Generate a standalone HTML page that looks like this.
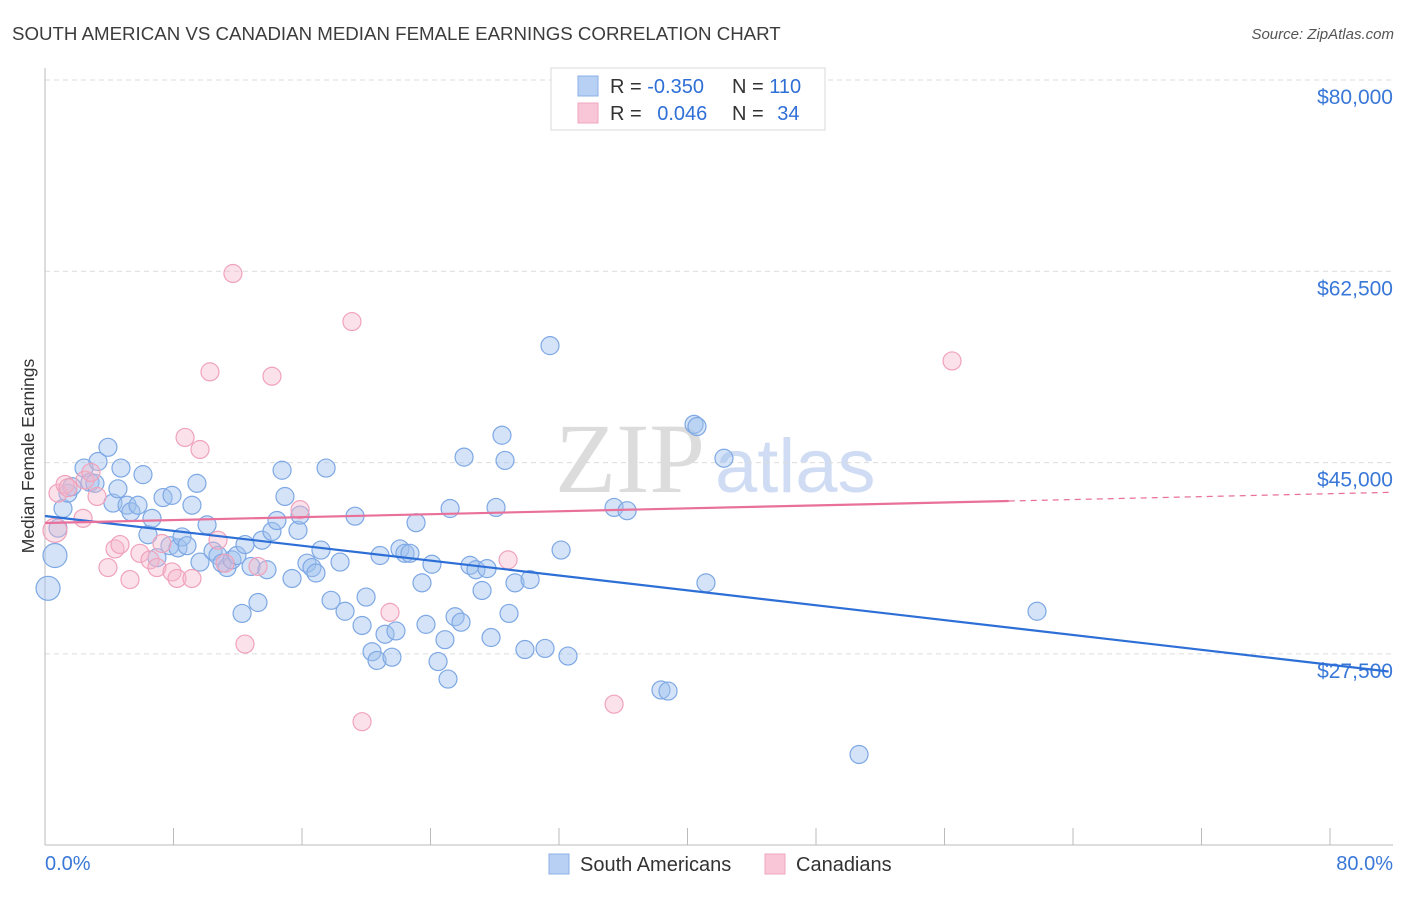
<!DOCTYPE html>
<html><head><meta charset="utf-8">
<style>
body{margin:0;background:#fff;font-family:"Liberation Sans",sans-serif;}
svg text{font-family:"Liberation Sans",sans-serif;}
</style></head>
<body>
<svg id="chart" width="1406" height="892" xmlns="http://www.w3.org/2000/svg">
<text x="12" y="40" font-size="18.7" fill="#3c3c3c">SOUTH AMERICAN VS CANADIAN MEDIAN FEMALE EARNINGS CORRELATION CHART</text>
<text x="1394" y="39" font-size="15" fill="#555" font-style="italic" text-anchor="end">Source: ZipAtlas.com</text>
<text x="555" y="492" font-size="100" fill="#dcdcdc" font-family="Liberation Serif" style="font-family:'Liberation Serif',serif">ZIP</text>
<text x="715" y="492" font-size="76" fill="#cfdcf3">atlas</text>
<text transform="translate(34,456) rotate(-90)" font-size="17.5" fill="#333" text-anchor="middle">Median Female Earnings</text>
<g id="grid"></g>
<g id="axes"></g>
<g id="pts"></g>
<g id="trends"></g>
<g>
<rect x="551" y="68" width="274" height="62" fill="#fff" stroke="#d8d8d8"/>
<rect x="578" y="76" width="20" height="20" fill="#b7d0f3" stroke="#8bb0e8"/>
<rect x="578" y="103" width="20" height="20" fill="#f8c6d6" stroke="#f0a6bf"/>
<text x="610" y="93" font-size="20" fill="#333">R = <tspan fill="#2f6fd6">-0.350</tspan></text>
<text x="732" y="93" font-size="20" fill="#333">N = <tspan fill="#2f6fd6">110</tspan></text>
<text x="610" y="120" font-size="20" fill="#333">R = <tspan fill="#2f6fd6" dx="10">0.046</tspan></text>
<text x="732" y="120" font-size="20" fill="#333">N = <tspan fill="#2f6fd6" dx="8">34</tspan></text>
</g>
<g>
<rect x="549" y="854" width="20" height="20" fill="#b7d0f3" stroke="#8bb0e8"/>
<text x="580" y="871" font-size="20" fill="#333">South Americans</text>
<rect x="765" y="854" width="20" height="20" fill="#f8c6d6" stroke="#f0a6bf"/>
<text x="796" y="871" font-size="20" fill="#333">Canadians</text>
</g>
<text x="45" y="870" font-size="20" fill="#3a78d8">0.0%</text>
<text x="1393" y="870" font-size="20" fill="#3a78d8" text-anchor="end">80.0%</text>
</svg>
<script>
const yTicks=[80000,62500,45000,27500];
const yTickLabels=["$80,000","$62,500","$45,000","$27,500"];
const xTicks=[0,8,16,24,32,40,48,56,64,72,80];
const saX=[0.19,0.62,0.81,1.12,1.43,1.68,2.43,2.80,3.11,3.30,3.92,4.23,4.54,4.73,5.11,5.35,5.79,6.10,6.41,6.66,6.97,7.35,7.78,7.91,8.28,8.53,8.84,9.15,9.46,9.65,10.09,10.46,10.77,11.02,11.33,11.64,11.95,12.27,12.45,12.83,13.26,13.51,13.82,14.13,14.44,14.76,14.94,15.38,15.75,15.88,16.31,16.62,16.87,17.18,17.50,17.81,18.37,18.68,19.30,19.74,19.99,20.36,20.67,20.86,21.17,21.60,21.85,22.10,22.41,22.72,23.10,23.47,23.72,24.09,24.47,24.90,25.09,25.22,25.53,25.90,26.09,26.46,26.83,27.21,27.52,27.77,28.08,28.45,28.64,28.89,29.26,29.88,30.20,31.13,31.44,32.13,32.56,35.43,36.24,38.35,38.79,40.41,40.59,41.15,42.27,50.68,61.76];
const saY=[33.5,36.5,39.0,40.8,42.2,42.8,44.5,43.2,43.1,45.1,46.4,41.3,42.6,44.5,41.1,40.5,41.1,43.9,38.4,39.9,36.3,41.8,37.4,42.0,37.2,38.2,37.4,41.1,43.1,35.9,39.3,36.9,36.5,35.8,35.4,36.1,36.5,31.2,37.5,35.5,32.2,37.9,35.2,38.7,39.7,44.3,41.9,34.4,38.8,40.2,35.8,35.4,34.9,37.0,44.5,32.4,35.9,31.4,40.1,30.1,32.7,27.7,26.9,36.5,29.3,27.2,29.6,37.1,36.7,36.7,39.5,34.0,30.2,35.7,26.8,28.8,25.2,40.8,30.9,30.4,45.5,35.6,35.2,33.3,35.3,29.0,40.9,47.5,45.2,31.2,34.0,27.9,34.3,28.0,55.7,37.0,27.3,40.9,40.6,24.2,24.1,48.5,48.3,34.0,45.4,18.3,31.4];
const caX=[0.62,0.81,1.25,1.43,2.49,2.86,3.24,2.37,3.92,4.36,4.67,5.29,5.91,6.54,6.97,7.28,7.91,8.22,8.72,9.15,9.65,10.27,10.77,11.21,11.70,12.45,13.26,14.13,15.88,19.11,19.74,21.48,28.83,35.43,56.47];
const caY=[38.8,42.2,43.0,42.7,43.4,44.1,41.9,39.9,35.4,37.1,37.5,34.3,36.7,36.1,35.4,37.6,35.0,34.4,47.3,34.4,46.2,53.3,37.9,35.8,62.3,28.4,35.5,52.9,40.7,57.9,21.3,31.3,36.1,22.9,54.3];
const saTrend=[40115,26510];
const caTrend=[39475,42155];
const NS="http://www.w3.org/2000/svg";
const X=p=>45+(p/80)*1285;
const Y=v=>80+(80000-v)/17500*191.3;
function mk(tag,attrs,parent){const e=document.createElementNS(NS,tag);for(const k in attrs)e.setAttribute(k,attrs[k]);parent.appendChild(e);return e;}
const grid=document.getElementById('grid'),axes=document.getElementById('axes'),pts=document.getElementById('pts'),tr=document.getElementById('trends');
yTicks.forEach((v,i)=>{
 const l=mk('line',{x1:45,x2:1393,y1:Y(v),y2:Y(v),stroke:'#dcdcdc','stroke-dasharray':'5,4'},grid);
 
 
 const t=mk('text',{x:1393,y:Y(v)+24,'font-size':21,fill:'#3a78d8','text-anchor':'end'},grid);
 t.textContent=yTickLabels[i];
 
 
});
const ya=mk('line',{x1:45,x2:45,y1:68,y2:845,stroke:'#bbb'},axes);


const xa=mk('line',{x1:45,x2:1393,y1:845,y2:845,stroke:'#bbb'},axes);


xTicks.forEach(p=>{
 const t=mk('line',{x1:X(p),x2:X(p),y1:828,y2:845,stroke:'#bbb'},axes);
 
 
});
function dots(xs,ys,fill,stroke,name){
 xs.forEach((x,i)=>{
  const big=(name==='south-american-point'&&i<2)||(name==='canadian-point'&&i===0);
  const c=mk('circle',{cx:X(x),cy:Y(ys[i]*1000),r:big?12:9,fill:fill,stroke:stroke,'stroke-width':1.2},pts);
  
  
 });
}
dots(saX,saY,'rgba(160,192,238,0.45)','#7ea8e4','south-american-point');
dots(caX,caY,'rgba(246,182,202,0.4)','#f0a2bb','canadian-point');
const xEnd=83.65;
const lerp=(a,b,p)=>a+(b-a)*p/80;
const sl=mk('line',{x1:X(0),y1:Y(saTrend[0]),x2:X(xEnd),y2:Y(lerp(saTrend[0],saTrend[1],xEnd)),stroke:'#2d6fd6','stroke-width':2.2},tr);


const cs=60;
const cl=mk('line',{x1:X(0),y1:Y(caTrend[0]),x2:X(cs),y2:Y(lerp(caTrend[0],caTrend[1],cs)),stroke:'#e8709a','stroke-width':2.2},tr);


const cd=mk('line',{x1:X(cs),y1:Y(lerp(caTrend[0],caTrend[1],cs)),x2:X(xEnd),y2:Y(lerp(caTrend[0],caTrend[1],xEnd)),stroke:'#e8709a','stroke-width':1.2,'stroke-dasharray':'6,5'},tr);


</script>
</body></html>
